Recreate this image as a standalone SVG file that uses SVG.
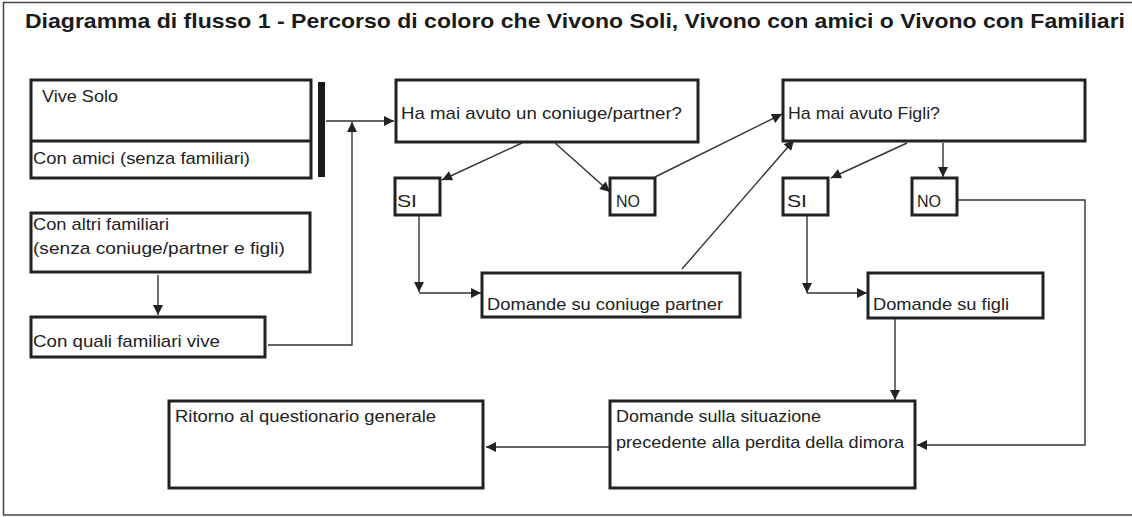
<svg xmlns="http://www.w3.org/2000/svg" width="1132" height="517" viewBox="0 0 1132 517">
<style>
.box{fill:#fff;stroke:#222;stroke-width:3}
.t{font-family:"Liberation Sans",Arial,sans-serif;font-size:17px;fill:#222}
.title{font-family:"Liberation Sans Narrow","Liberation Sans",Arial,sans-serif;font-size:21px;font-weight:bold;fill:#1a1a1a}
.c{fill:none;stroke:#333;stroke-width:1.4}
</style>
<defs>
<marker id="ah" viewBox="0 0 10 10" refX="10" refY="5" markerWidth="11" markerHeight="10" markerUnits="userSpaceOnUse" orient="auto">
<path d="M0,0 L10,5 L0,10 z" fill="#222"/>
</marker>
</defs>
<rect x="0" y="0" width="1132" height="517" fill="#fff"/>
<rect x="3.5" y="2.5" width="1140" height="512.5" fill="none" stroke="#444" stroke-width="1.5"/>
<text class="title" x="25" y="28" textLength="1100" lengthAdjust="spacingAndGlyphs">Diagramma di flusso 1 - Percorso di coloro che Vivono Soli, Vivono con amici o Vivono con Familiari</text>

<g id="vive-solo">
<rect class="box" x="31" y="80" width="280" height="98"/>
<line x1="31" y1="141" x2="311" y2="141" stroke="#222" stroke-width="3"/>
<text class="t" x="42" y="102" textLength="76" lengthAdjust="spacingAndGlyphs">Vive Solo</text>
<text class="t" x="33" y="164" textLength="217" lengthAdjust="spacingAndGlyphs">Con amici (senza familiari)</text>
</g>
<g id="bar">
<rect x="318" y="82" width="7" height="95" fill="#1a1a1a"/>
</g>
<g id="con-altri">
<rect class="box" x="31" y="213" width="279" height="59"/>
<text class="t" x="33" y="230" textLength="136" lengthAdjust="spacingAndGlyphs">Con altri familiari</text>
<text class="t" x="33" y="254" textLength="252" lengthAdjust="spacingAndGlyphs">(senza coniuge/partner e figli)</text>
</g>
<g id="con-quali">
<rect class="box" x="31" y="317" width="234" height="40"/>
<text class="t" x="33" y="347" textLength="187" lengthAdjust="spacingAndGlyphs">Con quali familiari vive</text>
</g>
<g id="q-coniuge">
<rect class="box" x="396" y="80" width="302" height="62"/>
<text class="t" x="401" y="119" textLength="281" lengthAdjust="spacingAndGlyphs">Ha mai avuto un coniuge/partner?</text>
</g>
<g id="si1">
<rect class="box" x="395" y="178" width="45" height="37"/>
<text class="t" x="397" y="207" textLength="20" lengthAdjust="spacingAndGlyphs">SI</text>
</g>
<g id="no1">
<rect class="box" x="610" y="178" width="45" height="37"/>
<text class="t" x="616" y="207" textLength="24" lengthAdjust="spacingAndGlyphs">NO</text>
</g>
<g id="dom-coniuge">
<rect class="box" x="482" y="273" width="258" height="44"/>
<text class="t" x="487" y="310" textLength="236" lengthAdjust="spacingAndGlyphs">Domande su coniuge partner</text>
</g>
<g id="q-figli">
<rect class="box" x="783" y="80" width="302" height="61"/>
<text class="t" x="788" y="119" textLength="152" lengthAdjust="spacingAndGlyphs">Ha mai avuto Figli?</text>
</g>
<g id="si2">
<rect class="box" x="783" y="178" width="45" height="37"/>
<text class="t" x="787" y="207" textLength="20" lengthAdjust="spacingAndGlyphs">SI</text>
</g>
<g id="no2">
<rect class="box" x="912" y="178" width="45" height="37"/>
<text class="t" x="917" y="207" textLength="24" lengthAdjust="spacingAndGlyphs">NO</text>
</g>
<g id="dom-figli">
<rect class="box" x="868" y="273" width="175" height="45"/>
<text class="t" x="873" y="310" textLength="136" lengthAdjust="spacingAndGlyphs">Domande su figli</text>
</g>
<g id="situazione">
<rect class="box" x="610" y="401" width="305" height="87"/>
<text class="t" x="616" y="422" textLength="205" lengthAdjust="spacingAndGlyphs">Domande sulla situazione</text>
<text class="t" x="616" y="448" textLength="288" lengthAdjust="spacingAndGlyphs">precedente alla perdita della dimora</text>
</g>
<g id="ritorno">
<rect class="box" x="169" y="401" width="314" height="87"/>
<text class="t" x="175" y="422" textLength="261" lengthAdjust="spacingAndGlyphs">Ritorno al questionario generale</text>
</g>

<g id="connectors">
<line class="c" x1="326" y1="121" x2="394" y2="121" marker-end="url(#ah)"/>
<polyline class="c" points="268,345 352,345 352,122" marker-end="url(#ah)"/>
<line class="c" x1="158" y1="275" x2="158" y2="315" marker-end="url(#ah)"/>
<line class="c" x1="522" y1="143" x2="442" y2="180" marker-end="url(#ah)"/>
<line class="c" x1="555" y1="143" x2="610" y2="192" marker-end="url(#ah)"/>
<line class="c" x1="655" y1="177" x2="782" y2="114" marker-end="url(#ah)"/>
<line class="c" x1="419" y1="216" x2="419" y2="292" marker-end="url(#ah)"/>
<line class="c" x1="419" y1="293" x2="481" y2="293" marker-end="url(#ah)"/>
<line class="c" x1="682" y1="269" x2="794" y2="140" marker-end="url(#ah)"/>
<line class="c" x1="907" y1="143" x2="831" y2="178" marker-end="url(#ah)"/>
<line class="c" x1="943" y1="143" x2="943" y2="177" marker-end="url(#ah)"/>
<line class="c" x1="807" y1="216" x2="807" y2="293" marker-end="url(#ah)"/>
<line class="c" x1="807" y1="293" x2="867" y2="293" marker-end="url(#ah)"/>
<polyline class="c" points="958,200 1085,200 1085,445 917,445" marker-end="url(#ah)"/>
<line class="c" x1="895" y1="319" x2="895" y2="400" marker-end="url(#ah)"/>
<line class="c" x1="609" y1="447" x2="486" y2="447" marker-end="url(#ah)"/>
</g>
</svg>
